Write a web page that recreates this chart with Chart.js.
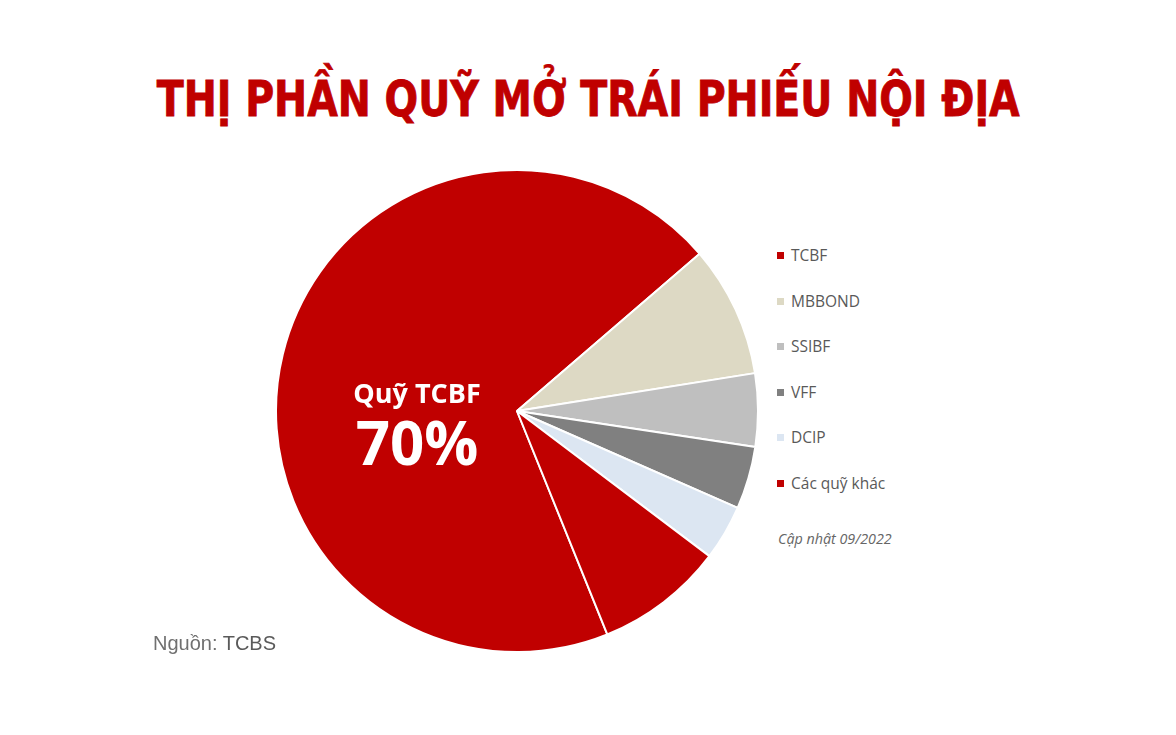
<!DOCTYPE html>
<html lang="vi">
<head>
    <meta charset="UTF-8">
    <title>Thị phần quỹ mở trái phiếu nội địa</title>
    <script src="https://cdn.jsdelivr.net/npm/chart.js"></script>
    <style>
        html, body {
            margin: 0;
            padding: 0;
            background: #fff;
        }
        .page {
            position: relative;
            width: 1176px;
            height: 735px;
            overflow: hidden;
        }
        .title-row {
            position: absolute;
            top: 70px;
            left: 0;
            width: 1176px;
            text-align: center;
        }
        .title {
            display: inline-block;
            font-family: 'DejaVu Sans Condensed', 'DejaVu Sans', sans-serif;
            font-weight: 700;
            font-size: 50px;
            color: #c00000;
            transform-origin: center center;
            white-space: nowrap;
            -webkit-text-stroke: 0.8px #c00000;
        }
        .pie-wrap {
            position: absolute;
            left: 275px;
            top: 169px;
            width: 484px;
            height: 484px;
        }
        .inner-label {
            position: absolute;
            left: 317px;
            top: 376px;
            width: 200px;
            text-align: center;
            color: #fff;
            font-family: 'Open Sans', sans-serif;
            font-weight: 700;
            pointer-events: none;
        }
        .inner-label .name {
            font-size: 27px;
            line-height: 34px;
        }
        .inner-label .pct {
            font-size: 60px;
            line-height: 64px;
        }
        .legend {
            position: absolute;
            left: 777px;
            top: 244px;
            font-family: 'Open Sans', sans-serif;
            font-size: 15.5px;
            color: #595959;
        }
        .legend-item {
            height: 45.6px;
            display: flex;
            align-items: flex-start;
        }
        .legend-item .box {
            width: 7px;
            height: 7px;
            margin-top: 8px;
            margin-right: 7px;
        }
        .update {
            position: absolute;
            left: 778px;
            top: 529px;
            font-family: 'Open Sans', sans-serif;
            font-style: italic;
            font-size: 14.3px;
            color: #666;
        }
        .source {
            position: absolute;
            left: 153px;
            top: 632px;
            font-family: 'Liberation Sans', sans-serif;
            font-size: 20px;
            color: #707070;
        }
        .source b {
            font-weight: 400;
            color: #5a5a5a;
        }
    </style>
</head>
<body>
    <div class="page">
        <div class="title-row"><span class="title" id="title">THỊ PHẦN QUỸ MỞ TRÁI PHIẾU NỘI ĐỊA</span></div>
        <div class="pie-wrap"><canvas id="pieChart"></canvas></div>
        <div class="inner-label">
            <div class="name">Quỹ TCBF</div>
            <div class="pct">70%</div>
        </div>
        <div class="legend" id="legend"></div>
        <div class="update">Cập nhật 09/2022</div>
        <div class="source">Nguồn: <b>TCBS</b></div>
    </div>

    <script>
        // thị phần (%)
        const funds = ['TCBF', 'MBBOND', 'SSIBF', 'VFF', 'DCIP', 'Các quỹ khác'];
        const shares = [69.8, 8.8, 4.9, 4.2, 3.7, 8.6];
        const colors = ['#c00000', '#ddd9c4', '#bfbfbf', '#808080', '#dce6f2', '#c00000'];

        // tiêu đề hẹp lại cho giống font condensed
        const title = document.getElementById('title');
        const w = title.getBoundingClientRect().width;
        title.style.transform = 'scaleX(' + (863 / w) + ')';

        // chú thích bên phải
        const legend = document.getElementById('legend');
        funds.forEach((f, i) => {
            const item = document.createElement('div');
            item.className = 'legend-item';
            item.innerHTML = `<span class="box" style="background:${colors[i]}"></span><span>${f}</span>`;
            legend.appendChild(item);
        });

        new Chart(document.getElementById('pieChart'), {
            type: 'pie',
            data: {
                labels: funds,
                datasets: [{
                    data: shares,
                    backgroundColor: colors,
                    borderColor: '#ffffff',
                    borderWidth: 2
                }]
            },
            options: {
                responsive: true,
                maintainAspectRatio: true,
                aspectRatio: 1,
                animation: false,
                rotation: 158,
                layout: { padding: 0 },
                plugins: {
                    legend: { display: false },
                    tooltip: { enabled: false }
                }
            }
        });
    </script>
</body>
</html>
